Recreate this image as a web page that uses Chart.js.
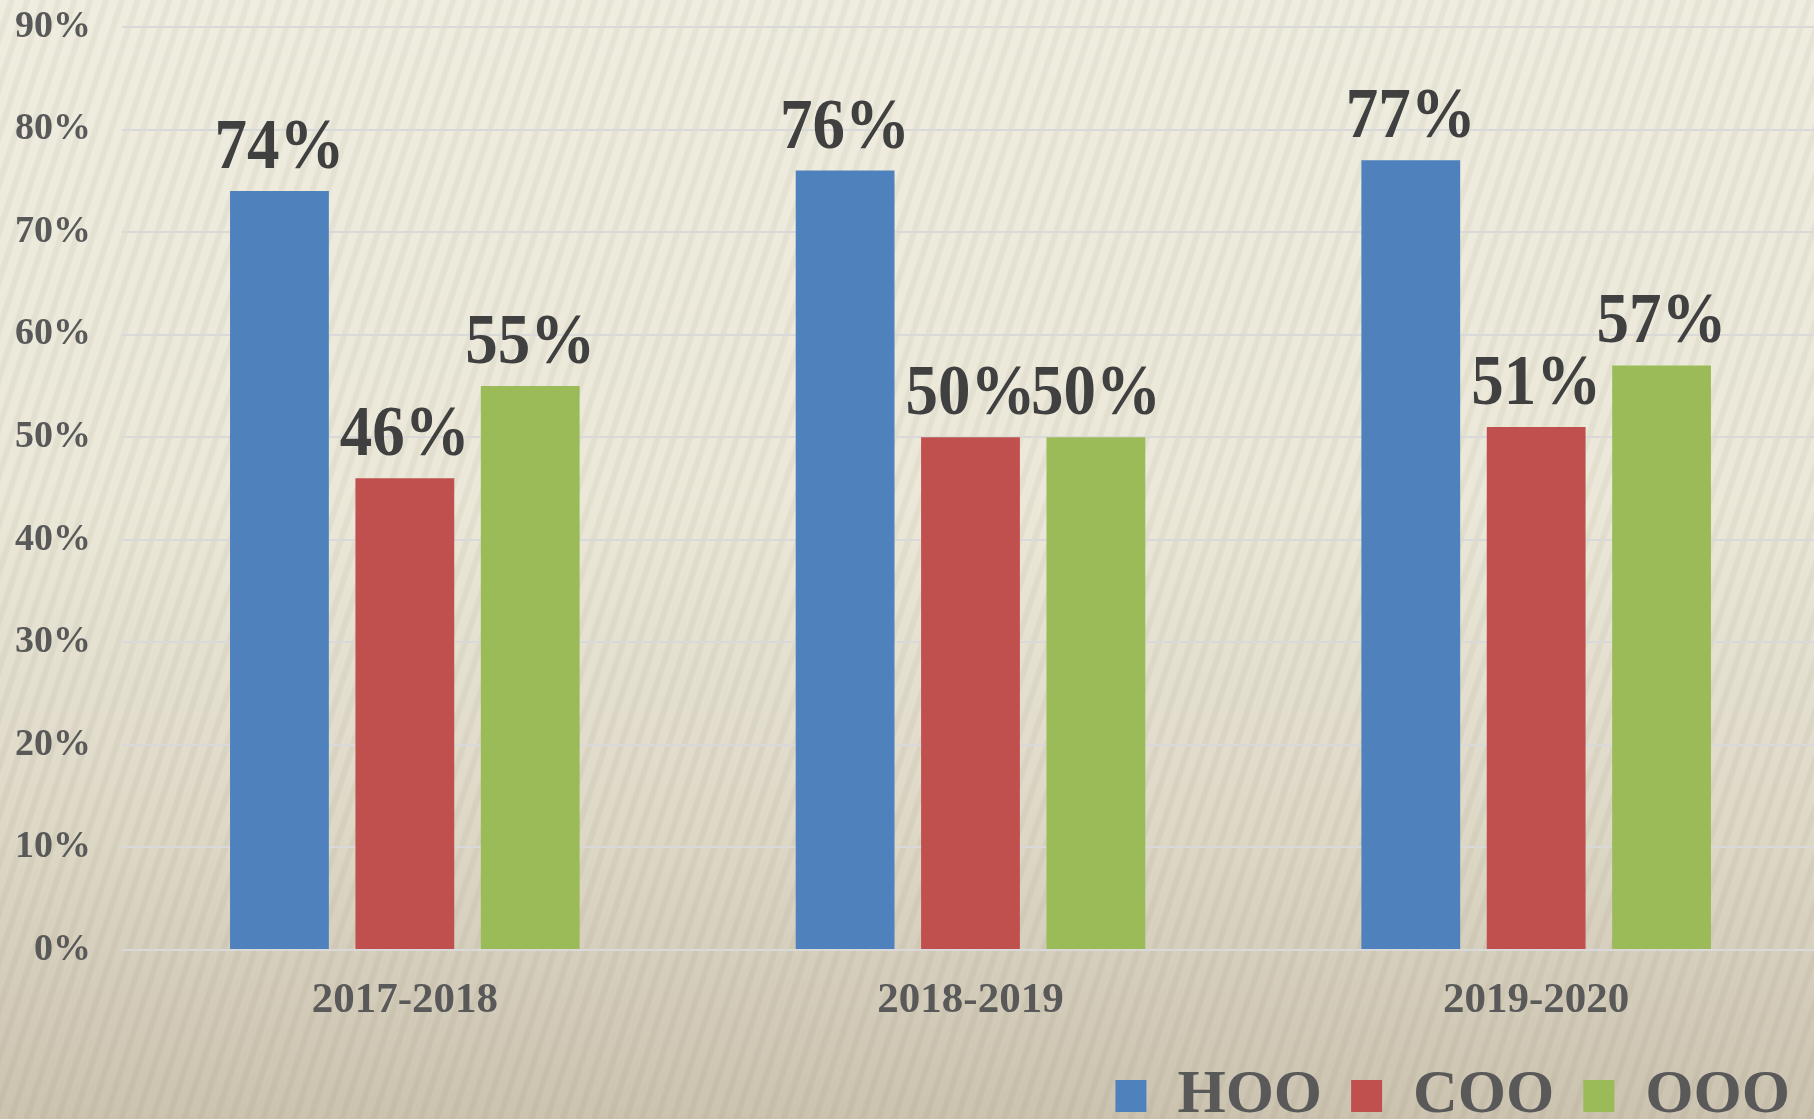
<!DOCTYPE html>
<html>
<head>
<meta charset="utf-8">
<script src="https://cdn.jsdelivr.net/npm/chart.js@4.4.1/dist/chart.umd.min.js"></script>
<style>
    html, body {
        margin: 0;
        padding: 0;
        width: 1814px;
        height: 1119px;
        overflow: hidden;
    }
    body {
        background:
            repeating-linear-gradient(108deg, rgba(255,255,250,0) 0px, rgba(255,255,250,0) 7px, rgba(110,100,70,0.07) 9px, rgba(110,100,70,0.07) 13px, rgba(255,255,250,0) 15px),
            linear-gradient(180deg, #efede0 0%, #ebe8d9 45%, #ddd7c6 75%, #cbc3b0 100%);
    }
    canvas { display: block; }
</style>
</head>
<body>
<!-- canvas etwas grösser als das fenster: rechts und unten wird abgeschnitten wie im original -->
<canvas id="chart" width="1819" height="1137"></canvas>
<script>
// daten
const categories = ["2017-2018", "2018-2019", "2019-2020"];
const hoo = [74, 76, 77];
const coo = [46, 50, 51];
const ooo = [55, 50, 57];
const yTicks = [0, 10, 20, 30, 40, 50, 60, 70, 80, 90];

const serif = '"Liberation Serif", "Times New Roman", serif';

// prozent-beschriftung über den balken (leicht gestreckt wie im original)
const barLabels = {
    id: "barLabels",
    afterDatasetsDraw(chart) {
        let ctx = chart.ctx;
        chart.data.datasets.forEach((ds, i) => {
            chart.getDatasetMeta(i).data.forEach((bar, j) => {
                ctx.save();
                ctx.translate(bar.x, bar.y - 23);
                ctx.scale(1, 1.1);
                ctx.font = "bold 65px " + serif;
                ctx.fillStyle = "#404040";
                ctx.textAlign = "center";
                ctx.textBaseline = "alphabetic";
                ctx.fillText(ds.data[j] + "%", 0, 0);
                ctx.restore();
            });
        });
    }
};

let ctx = document.getElementById("chart").getContext("2d");

const config = {
    type: "bar",
    data: {
        labels: categories,
        datasets: [
            { label: "HOO", data: hoo, backgroundColor: "#4f81bd" },
            { label: "COO", data: coo, backgroundColor: "#c0504d" },
            { label: "OOO", data: ooo, backgroundColor: "#9bbb59" }
        ]
    },
    options: {
        responsive: false,
        animation: false,
        categoryPercentage: 0.665,
        barPercentage: 0.788,
        layout: { padding: 0 },
        plugins: {
            tooltip: { enabled: false },
            legend: {
                position: "bottom",
                align: "end",
                labels: {
                    boxWidth: 31,
                    boxHeight: 32,
                    padding: 29,
                    color: "#595959",
                    font: { family: serif, size: 62, weight: "bold" }
                }
            }
        },
        scales: {
            x: {
                grid: { display: false },
                border: { display: false },
                ticks: {
                    padding: 17,
                    color: "#595959",
                    font: { family: serif, size: 43, weight: "bold" }
                },
                afterFit: (s) => { s.height = 86; }
            },
            y: {
                min: 0,
                max: 90,
                afterBuildTicks: (s) => { s.ticks = yTicks.map((v) => ({ value: v })); },
                grid: { color: "#d9d9d9", lineWidth: 2, drawTicks: false },
                border: { display: false },
                ticks: {
                    padding: 31,
                    color: "#595959",
                    font: { family: serif, size: 38, weight: "bold" },
                    callback: (v) => v + "%"
                },
                afterFit: (s) => {
                    s.width = 122;
                    s.paddingTop = 27;
                    s.paddingBottom = 0;
                }
            }
        }
    },
    plugins: [barLabels]
};

new Chart(ctx, config);
</script>
</body>
</html>
